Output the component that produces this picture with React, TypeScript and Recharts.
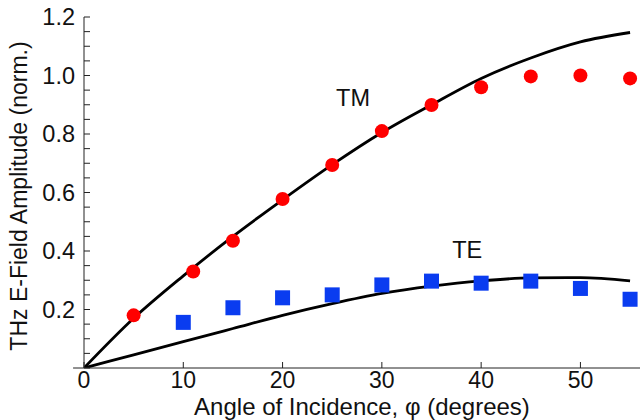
import React from 'react';
import {
  ComposedChart,
  Line,
  Scatter,
  XAxis,
  YAxis,
  ReferenceDot,
  ReferenceLine,
  Label,
} from 'recharts';

// measured TM / TE amplitudes
const tmPoints = [
  { x: 5, y: 0.18 },
  { x: 11, y: 0.33 },
  { x: 15, y: 0.435 },
  { x: 20, y: 0.578 },
  { x: 25, y: 0.694 },
  { x: 30, y: 0.81 },
  { x: 35, y: 0.899 },
  { x: 40, y: 0.96 },
  { x: 45, y: 0.997 },
  { x: 50, y: 1.0 },
  { x: 55, y: 0.99 },
];

const tePoints = [
  { x: 10, y: 0.156 },
  { x: 15, y: 0.206 },
  { x: 20, y: 0.24 },
  { x: 25, y: 0.25 },
  { x: 30, y: 0.284 },
  { x: 35, y: 0.297 },
  { x: 40, y: 0.29 },
  { x: 45, y: 0.297 },
  { x: 50, y: 0.272 },
  { x: 55, y: 0.235 },
];

// calculated curves
const tmCurve = [
  { x: 0, y: 0 },
  { x: 5, y: 0.17 },
  { x: 10, y: 0.315 },
  { x: 15, y: 0.45 },
  { x: 20, y: 0.575 },
  { x: 25, y: 0.695 },
  { x: 30, y: 0.805 },
  { x: 35, y: 0.9 },
  { x: 40, y: 0.99 },
  { x: 45, y: 1.06 },
  { x: 50, y: 1.115 },
  { x: 55, y: 1.147 },
];

const teCurve = [
  { x: 0, y: 0 },
  { x: 5, y: 0.045 },
  { x: 10, y: 0.09 },
  { x: 15, y: 0.135 },
  { x: 20, y: 0.18 },
  { x: 25, y: 0.22 },
  { x: 30, y: 0.255 },
  { x: 35, y: 0.28 },
  { x: 40, y: 0.298 },
  { x: 45, y: 0.308 },
  { x: 50, y: 0.309 },
  { x: 55, y: 0.298 },
];

const xTicks = [0, 10, 20, 30, 40, 50];
const yTicks = [
  0, 0.05, 0.1, 0.15, 0.2, 0.25, 0.3, 0.35, 0.4, 0.45, 0.5, 0.55, 0.6, 0.65,
  0.7, 0.75, 0.8, 0.85, 0.9, 0.95, 1.0, 1.05, 1.1, 1.15, 1.2,
];
const yLabels = [0.2, 0.4, 0.6, 0.8, 1.0, 1.2];

const seriesLabels = [
  { text: 'TM', x: 27.1, y: 0.923 },
  { text: 'TE', x: 38.6, y: 0.403 },
];

const font = '"Liberation Sans", Arial, Helvetica, sans-serif';
const axisColor = '#222';

const Circle = (p: any) => <circle cx={p.cx} cy={p.cy} r={7} fill="#ff0000" />;
const Square = (p: any) => (
  <rect x={p.cx - 7.5} y={p.cy - 7.5} width={15} height={15} fill="#0a3cf0" />
);

export default function App() {
  return (
    <div style={{ position: 'absolute', left: 0, top: 0, fontFamily: font }}>
      <ComposedChart
        width={640}
        height={420}
        margin={{ top: 17, right: 0, bottom: 0, left: 0 }}
      >
        <XAxis
          type="number"
          dataKey="x"
          domain={[0, 56]}
          ticks={xTicks}
          allowDataOverflow
          height={52}
          tickSize={-6}
          tickMargin={10}
          stroke={axisColor}
          tick={{ fill: '#111', fontSize: 23, fontFamily: font }}
        >
          <Label
            value="Angle of Incidence, φ (degrees)"
            position="insideBottom"
            offset={5}
            style={{ fontSize: 24, fill: '#111', fontFamily: font }}
          />
        </XAxis>
        <XAxis
          xAxisId="top"
          orientation="top"
          type="number"
          dataKey="x"
          domain={[0, 56]}
          ticks={xTicks}
          allowDataOverflow
          height={0}
          tickSize={-6}
          tickFormatter={() => ''}
          stroke={axisColor}
        />
        <YAxis
          type="number"
          domain={[0, 1.2]}
          ticks={yTicks}
          allowDataOverflow
          width={84}
          tickSize={-6}
          tickMargin={15}
          interval={0}
          stroke={axisColor}
          tickFormatter={(v: number) => (yLabels.includes(v) ? v.toFixed(1) : '')}
          tick={{ fill: '#111', fontSize: 23.5, fontFamily: font }}
        >
          <Label
            content={() => (
              <text
                x={18.5}
                y={196}
                transform="rotate(-90 18.5 196)"
                textAnchor="middle"
                dominantBaseline="central"
                style={{ fontSize: 23, fill: '#111', fontFamily: font }}
              >
                THz E-Field Amplitude (norm.)
              </text>
            )}
          />
        </YAxis>
        <YAxis
          yAxisId="right"
          orientation="right"
          type="number"
          domain={[0, 1.2]}
          ticks={yTicks}
          allowDataOverflow
          width={0}
          tickSize={-6}
          interval={0}
          tickFormatter={() => ''}
          stroke={axisColor}
        />

        {/* bottom axis line runs a little past the left axis */}
        <ReferenceLine
          segment={[
            { x: -1.1, y: 0 },
            { x: 0, y: 0 },
          ]}
          ifOverflow="visible"
          stroke={axisColor}
        />

        <Line
          data={tmCurve}
          dataKey="y"
          type="monotone"
          stroke="#000"
          strokeWidth={2.8}
          dot={false}
          activeDot={false}
          isAnimationActive={false}
        />
        <Line
          data={teCurve}
          dataKey="y"
          type="monotone"
          stroke="#000"
          strokeWidth={2.8}
          dot={false}
          activeDot={false}
          isAnimationActive={false}
        />
        <Scatter data={tmPoints} dataKey="y" shape={Circle} isAnimationActive={false} />
        <Scatter data={tePoints} dataKey="y" shape={Square} isAnimationActive={false} />

        {seriesLabels.map((l) => (
          <ReferenceDot
            key={l.text}
            x={l.x}
            y={l.y}
            r={0}
            fill="none"
            stroke="none"
            label={{
              value: l.text,
              position: 'center',
              fontSize: 23.5,
              fill: '#111',
              fontFamily: font,
            }}
          />
        ))}
      </ComposedChart>
    </div>
  );
}
